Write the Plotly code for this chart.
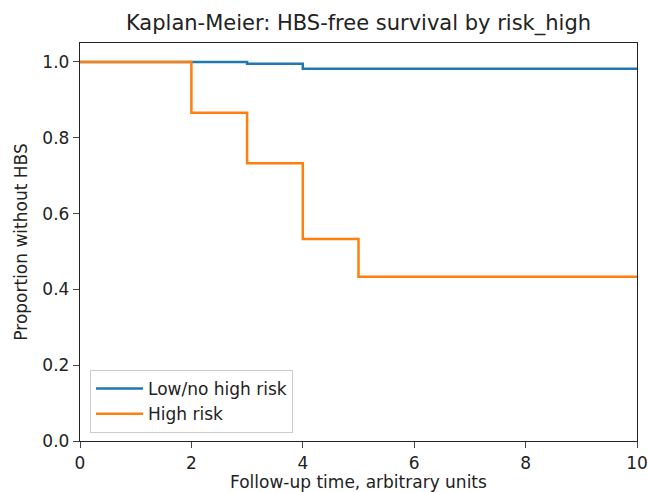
import plotly.graph_objects as go

low_t = [0, 3, 4, 10]
low_s = [1.0, 0.9955, 0.982, 0.982]
high_t = [0, 2, 3, 4, 5, 10]
high_s = [1.0, 0.866, 0.733, 0.533, 0.433, 0.433]
x_title = "Follow-up time, arbitrary units"
y_title = "Proportion without HBS"

fig = go.Figure()
fig.add_trace(go.Scatter(x=low_t, y=low_s, mode="lines", line=dict(shape="hv", color="#1f77b4", width=2.5),
                         name="Low/no high risk"))
fig.add_trace(go.Scatter(x=high_t, y=high_s, mode="lines", line=dict(shape="hv", color="#ff7f0e", width=2.5),
                         name="High risk"))

W, H = 648, 492
plot_h = 492 - 43 - 51
font = "DejaVu Sans"
fig.update_layout(
    width=W, height=H,
    margin=dict(l=80, r=11, t=43, b=51, autoexpand=False),
    paper_bgcolor="white", plot_bgcolor="white",
    font=dict(family=font, size=17, color="#222"),
    title=dict(text="Kaplan-Meier: HBS-free survival by risk_high", x=(80 + 637) / 2 / W, xanchor="center",
               y=1 - 23 / H, yanchor="middle", font=dict(size=21, color="#222")),
    showlegend=True,
    legend=dict(x=0.018, y=0.02, xanchor="left", yanchor="bottom", bgcolor="rgba(255,255,255,0.8)",
                bordercolor="#ccc", borderwidth=1, font=dict(size=17), tracegroupgap=0,
                itemwidth=47),
    annotations=[dict(text=x_title, xref="paper", yref="paper", x=0.5, y=-41 / plot_h,
                      xanchor="center", yanchor="middle", showarrow=False, font=dict(size=17, color="#222"))],
)
fig.update_xaxes(range=[0, 10], tickvals=[0, 2, 4, 6, 8, 10], ticks="outside", ticklen=6, tickwidth=1.4,
                 showline=True, linecolor="#222", linewidth=1.4, mirror=True, showgrid=False, zeroline=False,
                 automargin=True, tickfont=dict(size=17))
fig.update_yaxes(range=[0, 1.05], tickvals=[0, 0.2, 0.4, 0.6, 0.8, 1.0], tickformat=".1f",
                 ticks="outside", ticklen=6, tickwidth=1.4, automargin=True,
                 showline=True, linecolor="#222", linewidth=1.4, mirror=True, showgrid=False, zeroline=False,
                 title=dict(text=y_title, standoff=10, font=dict(size=17)),
                 tickfont=dict(size=17))
fig.write_html("out.html", config={"displayModeBar": False},
               post_script="document.body.style.margin='0px';document.body.style.overflow='hidden';")
